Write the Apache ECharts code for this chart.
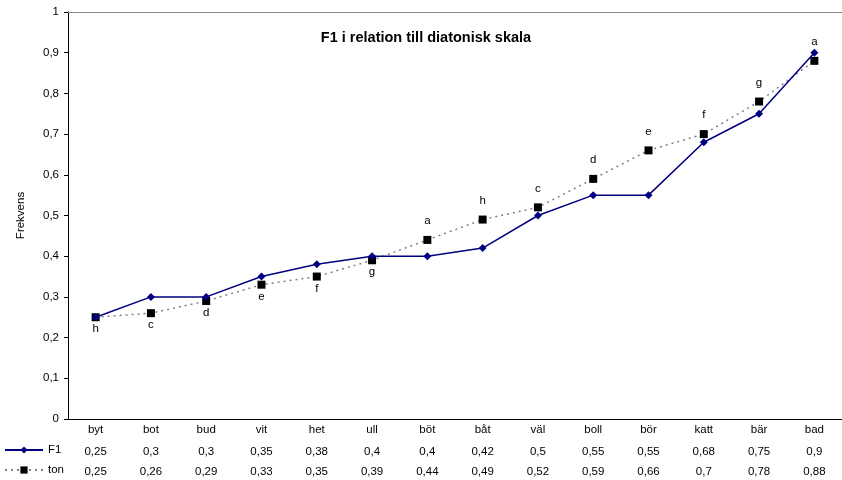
<!DOCTYPE html>
<html>
<head>
<meta charset="utf-8">
<script src="https://cdn.jsdelivr.net/npm/echarts@6/dist/echarts.min.js"></script>
<style>
  html, body { margin: 0; padding: 0; background: #fff; }
  #chart { width: 842px; height: 480px; }
</style>
</head>
<body>
<div id="chart"></div>
<script>
// Vowel words along the x axis
const words = ['byt', 'bot', 'bud', 'vit', 'het', 'ull', 'böt', 'båt', 'väl', 'boll', 'bör', 'katt', 'bär', 'bad'];
// Normalised first formant per word
const f1 = [0.25, 0.3, 0.3, 0.35, 0.38, 0.4, 0.4, 0.42, 0.5, 0.55, 0.55, 0.68, 0.75, 0.9];
// Nearest step of the diatonic scale
const ton = [0.25, 0.26, 0.29, 0.33, 0.35, 0.39, 0.44, 0.49, 0.52, 0.59, 0.66, 0.7, 0.78, 0.88];
// Note names written beside the scale points
const notes = ['h', 'c', 'd', 'e', 'f', 'g', 'a', 'h', 'c', 'd', 'e', 'f', 'g', 'a'];
// Value axis ticks
const yTicks = [0, 0.1, 0.2, 0.3, 0.4, 0.5, 0.6, 0.7, 0.8, 0.9, 1];

const FONT = '"Liberation Sans", Arial, sans-serif';
const comma = v => String(v).replace('.', ',');

const chart = echarts.init(document.getElementById('chart'), null, { renderer: 'canvas' });

// Extra category axes below the plot act as the data table rows
const tableAxis = (values, offset) => ({
  type: 'category',
  position: 'bottom',
  gridIndex: 0,
  offset: offset,
  data: values.map(comma),
  axisLine: { show: false },
  axisTick: { show: false },
  axisLabel: { color: '#000', fontFamily: FONT, fontSize: 11.5, margin: 5 },
  splitLine: { show: false }
});

chart.setOption({
  animation: false,
  backgroundColor: '#fff',
  title: {
    text: 'F1 i relation till diatonisk skala',
    left: 421,
    textAlign: 'center',
    top: 25,
    textStyle: { fontFamily: FONT, fontSize: 14.5, fontWeight: 'bold', color: '#000' }
  },
  legend: {
    orient: 'vertical',
    left: 4,
    top: 444,
    height: 40,
    padding: 0,
    itemGap: 8,
    itemWidth: 38,
    itemHeight: 9,
    align: 'left',
    textStyle: { fontFamily: FONT, fontSize: 11.5, color: '#000' },
    data: ['F1', 'ton']
  },
  grid: { left: 68, top: 12, width: 781, bottom: 61, containLabel: false },
  xAxis: [
    {
      type: 'category',
      position: 'bottom',
      data: words,
      axisLine: { show: true, lineStyle: { color: '#000', width: 1 } },
      axisTick: { show: false },
      axisLabel: { color: '#000', fontFamily: FONT, fontSize: 11.5, margin: 5 },
      splitLine: { show: false }
    },
    tableAxis(f1, 22),
    tableAxis(ton, 42),
    {
      type: 'category',
      position: 'top',
      data: words,
      axisLine: { show: true, lineStyle: { color: '#888', width: 1 } },
      axisTick: { show: false },
      axisLabel: { show: false }
    }
  ],
  yAxis: {
    type: 'value',
    min: 0,
    max: 1,
    interval: 0.1,
    name: 'Frekvens',
    nameLocation: 'middle',
    nameGap: 41,
    nameRotate: 90,
    nameTextStyle: { fontFamily: FONT, fontSize: 11.5, color: '#000' },
    axisLine: { show: true, lineStyle: { color: '#000', width: 1 } },
    axisTick: { show: true, inside: false, length: 4, lineStyle: { color: '#000' } },
    axisLabel: {
      color: '#000', fontFamily: FONT, fontSize: 11.5, margin: 9,
      formatter: v => yTicks.some(t => Math.abs(t - v) < 1e-9) ? comma(Math.round(v * 10) / 10) : ''
    },
    splitLine: { show: false }
  },
  series: [
    {
      name: 'F1',
      type: 'line',
      data: f1,
      symbol: 'diamond',
      symbolSize: 8,
      lineStyle: { color: '#000080', width: 1.5 },
      itemStyle: { color: '#000080' },
      z: 3
    },
    {
      name: 'ton',
      type: 'line',
      data: ton.map((v, i) => ({
        value: v,
        label: { position: i < 6 ? 'bottom' : 'top', distance: i < 6 ? 2 : 9 }
      })),
      symbol: 'rect',
      symbolSize: 8,
      lineStyle: { color: '#808080', width: 1.5, type: [2, 4] },
      itemStyle: { color: '#000' },
      label: {
        show: true,
        color: '#000',
        fontFamily: FONT,
        fontSize: 11.5,
        formatter: p => notes[p.dataIndex]
      },
      z: 2
    }
  ]
});
</script>
</body>
</html>
